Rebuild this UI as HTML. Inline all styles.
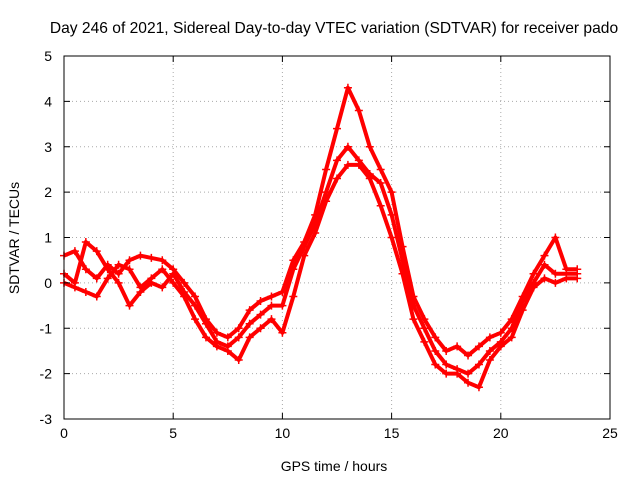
<!DOCTYPE html>
<html><head><meta charset="utf-8"><style>
body{margin:0;background:#fff}
svg text{font-family:"Liberation Sans",sans-serif;font-size:14px;fill:#000}
</style></head><body>
<svg id="chart" width="640" height="480">
<text x="334" y="33" text-anchor="middle" style="font-size:15.6px">Day 246 of 2021, Sidereal Day-to-day VTEC variation (SDTVAR) for receiver pado</text>
<text x="334" y="471" text-anchor="middle">GPS time / hours</text>
<text transform="translate(19,238) rotate(-90)" text-anchor="middle">SDTVAR / TECUs</text>
<g id="grid"></g><g id="series"></g>
<rect x="64" y="56" width="546" height="363" fill="none" stroke="#000"/>
<g id="ticks"></g>
</svg>
<script>
const times=[0,0.5,1,1.5,2,2.5,3,3.5,4,4.5,5,5.5,6,6.5,7,7.5,8,8.5,9,9.5,10,10.5,11,11.5,12,12.5,13,13.5,14,14.5,15,15.5,16,16.5,17,17.5,18,18.5,19,19.5,20,20.5,21,21.5,22,22.5,23,23.5];
const seriesA=[0.6,0.7,0.3,0.1,0.4,0.2,0.5,0.6,0.55,0.5,0.3,0,-0.3,-0.8,-1.1,-1.2,-1.0,-0.6,-0.4,-0.3,-0.2,0.5,0.9,1.5,2.5,3.4,4.3,3.8,3.0,2.5,2.0,0.8,-0.3,-0.8,-1.2,-1.5,-1.4,-1.6,-1.4,-1.2,-1.1,-0.8,-0.3,0.2,0.6,1.0,0.3,0.3];
const seriesB=[0.2,0,0.9,0.7,0.3,0,-0.5,-0.2,0,-0.1,0.2,-0.2,-0.5,-0.9,-1.3,-1.4,-1.2,-0.9,-0.7,-0.5,-0.5,0.3,0.8,1.3,2.0,2.7,3.0,2.7,2.4,2.2,1.5,0.5,-0.5,-1.0,-1.5,-1.8,-1.9,-2.0,-1.8,-1.5,-1.3,-1.0,-0.4,0,0.4,0.2,0.2,0.2];
const seriesC=[0,-0.1,-0.2,-0.3,0.1,0.4,0.3,-0.1,0.1,0.3,0,-0.3,-0.8,-1.2,-1.4,-1.5,-1.7,-1.2,-1.0,-0.8,-1.1,-0.3,0.6,1.1,1.8,2.3,2.6,2.6,2.3,1.7,1.0,0.2,-0.8,-1.3,-1.8,-2.0,-2.0,-2.2,-2.3,-1.7,-1.4,-1.2,-0.6,-0.1,0.1,0.0,0.1,0.1];
const xTicks=[0,5,10,15,20,25];
const yTicks=[-3,-2,-1,0,1,2,3,4,5];
const NS='http://www.w3.org/2000/svg';
const X=v=>64+v/25*546, Y=v=>419-(v+3)/8*363;
const grid=document.getElementById('grid'),ticks=document.getElementById('ticks'),ser=document.getElementById('series');
function mk(t,a,p){const e=document.createElementNS(NS,t);for(const k in a)e.setAttribute(k,a[k]);p.appendChild(e);return e;}
xTicks.forEach(v=>{
 if(v>0&&v<25){const g=mk('line',{x1:X(v),x2:X(v),y1:56,y2:419,stroke:'#aaa','stroke-dasharray':'1,3'},grid);
 
 }
 const t=mk('text',{x:X(v),y:438,'text-anchor':'middle'},ticks);t.textContent=v;
 
 
 mk('line',{x1:X(v),x2:X(v),y1:419,y2:413,stroke:'#000'},ticks);
 mk('line',{x1:X(v),x2:X(v),y1:56,y2:62,stroke:'#000'},ticks);
});
yTicks.forEach(v=>{
 if(v>-3&&v<5){const g=mk('line',{x1:64,x2:610,y1:Y(v),y2:Y(v),stroke:'#aaa','stroke-dasharray':'1,3'},grid);
 
 }
 const t=mk('text',{x:52,y:Y(v)+5,'text-anchor':'end'},ticks);t.textContent=v;
 
 
 mk('line',{x1:64,x2:70,y1:Y(v),y2:Y(v),stroke:'#000'},ticks);
 mk('line',{x1:604,x2:610,y1:Y(v),y2:Y(v),stroke:'#000'},ticks);
});
[seriesA,seriesB,seriesC].forEach((s,i)=>{
 const g=mk('g',{},ser);
 
 
 mk('polyline',{points:s.map((v,j)=>X(times[j])+','+Y(v)).join(' '),fill:'none',stroke:'#f00','stroke-width':4,'stroke-linejoin':'round'},g);
 s.forEach((v,j)=>{const x=X(times[j]),y=Y(v);
  const p=mk('path',{d:`M${x-4},${y}h8M${x},${y-4}v8`,stroke:'#f00','stroke-width':1.5},g);
  
  });
});
</script>
</body></html>
